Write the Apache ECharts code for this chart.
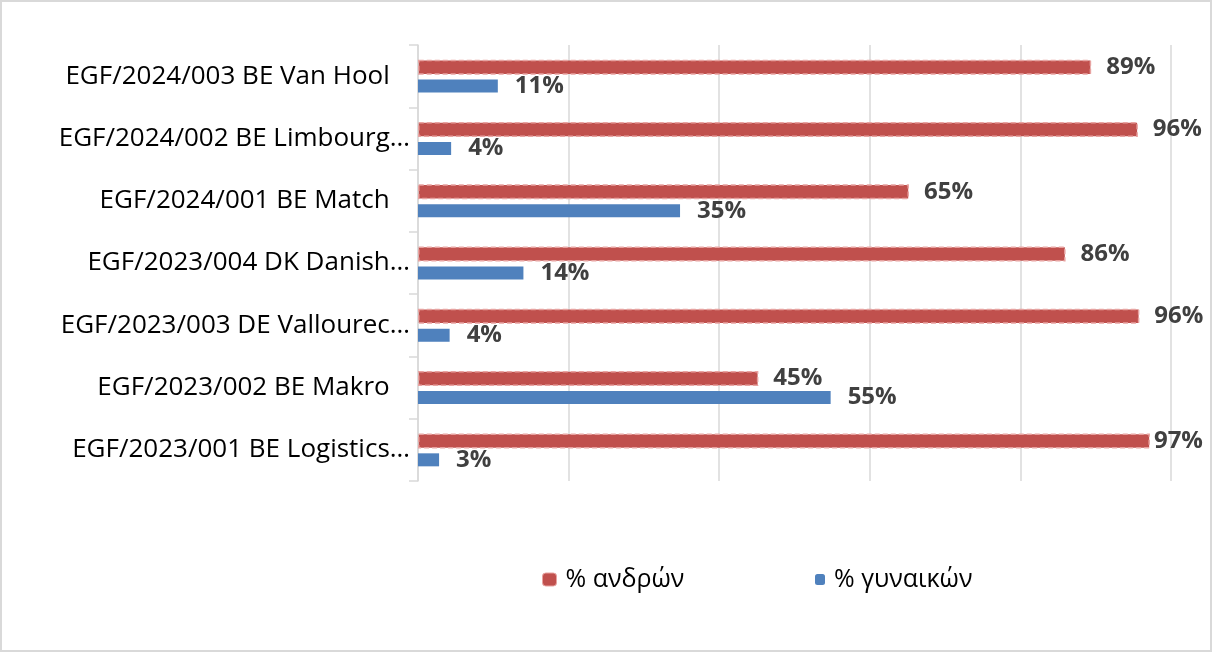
<!DOCTYPE html>
<html>
<head>
<meta charset="utf-8">
<script src="https://cdn.jsdelivr.net/npm/echarts@6/dist/echarts.min.js"></script>
<style>
html,body{margin:0;padding:0;background:#fff;}
#c{width:1212px;height:652px;}
</style>
</head>
<body>
<div id="c"></div>
<script>
const categories = [
  "EGF/2024/003 BE Van Hool\u00a0\u00a0\u00a0",
  "EGF/2024/002 BE Limbourg…",
  "EGF/2024/001 BE Match\u00a0\u00a0\u00a0",
  "EGF/2023/004 DK Danish…",
  "EGF/2023/003 DE Vallourec…",
  "EGF/2023/002 BE Makro\u00a0\u00a0\u00a0",
  "EGF/2023/001 BE Logistics…"
];
const seriesNames = ["% ανδρών", "% γυναικών"];
const men =   [0.894, 0.956, 0.652, 0.860, 0.958, 0.452, 0.972];
const women = [0.106, 0.044, 0.348, 0.140, 0.042, 0.548, 0.028];
const xTicks = [0, 0.2, 0.4, 0.6, 0.8, 1.0];

const RED = '#C0504D', PINK = '#E8A3A1', BLUE = '#4F81BD', GRID = '#d9d9d9';
const pct = p => Math.round(p.value * 100) + '%';
const labelStyle = {
  show: true, position: 'right', formatter: pct,
  fontFamily: 'Open Sans', fontWeight: 'bold', fontSize: 24, color: '#404040'
};
const legendText = {fontFamily: 'Open Sans', fontSize: 25, color: '#000', padding: [0, 0, 0, 4]};

const chart = echarts.init(document.getElementById('c'), null, {renderer: 'canvas'});
chart.setOption({
  animation: false,
  backgroundColor: '#fff',
  graphic: [{
    type: 'rect', shape: {x: 1, y: 1, width: 1210, height: 650},
    style: {fill: 'none', stroke: GRID, lineWidth: 2}, silent: true, z: 100
  }],
  grid: {left: 418, right: 41, top: 45, bottom: 171, containLabel: false},
  legend: [
    {
      left: 537, top: 562, itemWidth: 14, itemHeight: 13, textStyle: legendText,
      data: [{name: seriesNames[0], itemStyle: {color: RED, borderColor: PINK, borderWidth: 1, borderType: 'solid'}}]
    },
    {
      left: 810, top: 562, itemWidth: 10, itemHeight: 11, textStyle: legendText,
      data: [seriesNames[1]]
    }
  ],
  xAxis: {
    type: 'value', min: xTicks[0], max: xTicks[xTicks.length - 1], interval: 0.2,
    axisLabel: {show: false}, axisLine: {show: false}, axisTick: {show: false},
    splitLine: {show: true, lineStyle: {color: GRID, width: 1.5}}
  },
  yAxis: {
    type: 'category', data: categories, inverse: true,
    axisLine: {show: true, lineStyle: {color: GRID, width: 1.5}},
    axisTick: {show: true, length: 9, lineStyle: {color: GRID, width: 1.5}},
    axisLabel: {fontFamily: 'Open Sans', fontSize: 26, color: '#000', margin: 8}
  },
  series: [
    {
      name: seriesNames[0], type: 'bar', barWidth: 15, barGap: '33%',
      itemStyle: {color: RED, borderColor: PINK, borderWidth: 1.5, borderType: [5, 3]},
      label: Object.assign({}, labelStyle, {distance: 15}),
      data: men.map(v => v > 0.965 ? {value: v, label: {distance: 4}} : v)
    },
    {
      name: seriesNames[1], type: 'bar', barWidth: 13, barGap: '33%',
      itemStyle: {color: BLUE},
      label: Object.assign({}, labelStyle, {distance: 17}),
      data: women
    }
  ]
});
</script>
</body>
</html>
